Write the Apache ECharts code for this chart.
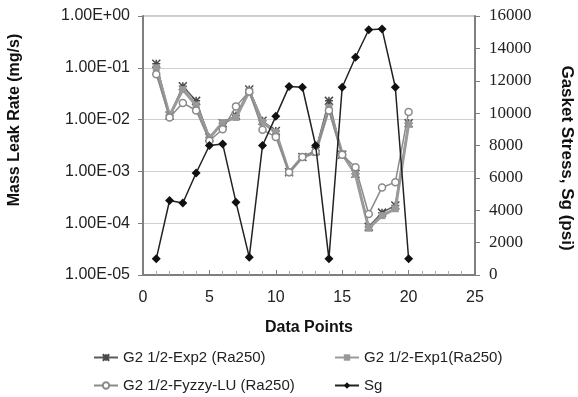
<!DOCTYPE html>
<html>
<head>
<meta charset="utf-8">
<script src="https://cdn.jsdelivr.net/npm/echarts@6/dist/echarts.min.js"></script>
<style>
  html, body { margin: 0; padding: 0; background: #fff; }
  #chart { width: 578px; height: 397px; }
</style>
</head>
<body>
<div id="chart"></div>
<script>
// Measurement index along the x axis
const dataPoints = [1, 2, 3, 4, 5, 6, 7, 8, 9, 10, 11, 12, 13, 14, 15, 16, 17, 18, 19, 20];

// Mass leak rate (mg/s), log scale
const exp2Rate = [0.12, 0.012, 0.044, 0.023, 0.0045, 0.0085, 0.012, 0.038, 0.0095, 0.006,
                  0.00096, 0.0019, 0.0025, 0.023, 0.0021, 0.0009, 0.000085, 0.00016, 0.00022, 0.0085];
const exp1Rate = [0.1, 0.012, 0.038, 0.019, 0.0044, 0.0088, 0.011, 0.035, 0.0089, 0.0057,
                  0.00095, 0.0019, 0.0023, 0.017, 0.0022, 0.00088, 0.00008, 0.00014, 0.00019, 0.0081];
const fuzzyRate = [0.075, 0.011, 0.021, 0.015, 0.0039, 0.0065, 0.018, 0.035, 0.0064, 0.0046,
                   0.00096, 0.0019, 0.0024, 0.015, 0.0021, 0.0012, 0.00015, 0.00049, 0.00062, 0.014];

// Gasket stress Sg (psi), right axis
const gasketStress = [1000, 4600, 4450, 6300, 8000, 8100, 4500, 1100, 8000, 9800,
                      11650, 11600, 8000, 1000, 11600, 13450, 15150, 15200, 11600, 1000];

const seriesNames = ['G2 1/2-Exp2 (Ra250)', 'G2 1/2-Exp1(Ra250)', 'G2 1/2-Fyzzy-LU (Ra250)', 'Sg'];

const pair = (vals) => vals.map((v, i) => [dataPoints[i], v]);

const asterisk = 'path://M0,0L10,10M10,0L0,10M5,0L5,10M0,5L10,5';

function sciLabel(v) {
  const e = Math.round(Math.log10(v));
  return '1.00E' + (e < 0 ? '-' : '+') + String(Math.abs(e)).padStart(2, '0');
}

const sans = 'Liberation Sans, Arial, sans-serif';
const serif = 'Liberation Serif, Times New Roman, serif';
const axisGray = '#7f7f7f';

const chart = echarts.init(document.getElementById('chart'), null, { renderer: 'canvas' });

const legendText = { fontFamily: sans, fontSize: 15, color: '#222' };
const legendBase = { itemWidth: 24, itemHeight: 8, itemGap: 0, padding: 0, textStyle: legendText, selectedMode: false };

chart.setOption({
  animation: false,
  backgroundColor: '#fff',
  grid: {
    left: 143, right: 103, top: 16, bottom: 122,
    show: true, borderColor: '#999', borderWidth: 1, backgroundColor: 'transparent'
  },
  legend: [
    Object.assign({ left: 93, top: 350, data: [seriesNames[0]] }, legendBase),
    Object.assign({ left: 334, top: 350, data: [seriesNames[1]] }, legendBase),
    Object.assign({ left: 93, top: 378, data: [seriesNames[2]] }, legendBase),
    Object.assign({ left: 334, top: 378, data: [seriesNames[3]] }, legendBase)
  ],
  xAxis: {
    type: 'value', min: 0, max: 25, interval: 5,
    name: 'Data Points', nameLocation: 'middle', nameGap: 45,
    nameTextStyle: { fontFamily: sans, fontSize: 16, fontWeight: 'bold', color: '#111' },
    axisLine: { show: true, lineStyle: { color: axisGray, width: 2 } },
    axisTick: { show: true, inside: true, length: 5, lineStyle: { color: axisGray } },
    minorTick: { show: true, splitNumber: 5, length: 4, lineStyle: { color: '#aaa' } },
    axisLabel: { margin: 15, fontFamily: sans, fontSize: 16, color: '#222' },
    splitLine: { show: false }
  },
  yAxis: [
    {
      type: 'log', logBase: 10, min: 1e-5, max: 1,
      axisLine: { show: true, lineStyle: { color: axisGray, width: 2 } },
      axisTick: { show: true, inside: false, length: 5, lineStyle: { color: axisGray } },
      axisLabel: { margin: 13, fontFamily: sans, fontSize: 16, color: '#222', formatter: sciLabel },
      splitLine: { show: true, lineStyle: { color: '#cfcfcf', width: 1 } }
    },
    {
      type: 'value', min: 0, max: 16000, interval: 2000, position: 'right',
      axisLine: { show: true, lineStyle: { color: axisGray, width: 2 } },
      axisTick: { show: true, inside: false, length: 5, lineStyle: { color: axisGray } },
      axisLabel: { margin: 14, fontFamily: serif, fontSize: 17, color: '#222',
                   formatter: (v) => String(v) },
      splitLine: { show: false }
    }
  ],
  graphic: [
    {
      type: 'text', x: 15, y: 120, rotation: Math.PI / 2,
      style: { text: 'Mass Leak Rate (mg/s)', fontFamily: sans, fontSize: 16, fontWeight: 'bold',
               fill: '#111', textAlign: 'center', textVerticalAlign: 'middle' }
    },
    {
      type: 'text', x: 567, y: 158, rotation: -Math.PI / 2,
      style: { text: 'Gasket Stress, Sg (psi)', fontFamily: sans, fontSize: 17, fontWeight: 'bold',
               fill: '#111', textAlign: 'center', textVerticalAlign: 'middle' }
    }
  ],
  series: [
    {
      name: seriesNames[0], type: 'line', yAxisIndex: 0, data: pair(exp2Rate),
      symbol: asterisk, symbolSize: 8, showAllSymbol: true,
      lineStyle: { color: '#5a5a5a', width: 1.5 },
      itemStyle: { color: 'rgba(0,0,0,0)', borderColor: '#4a4a4a', borderWidth: 1.5 },
      z: 2
    },
    {
      name: seriesNames[1], type: 'line', yAxisIndex: 0, data: pair(exp1Rate),
      symbol: 'rect', symbolSize: 7,
      lineStyle: { color: '#9a9a9a', width: 3 },
      itemStyle: { color: '#999999', borderColor: '#999999', borderWidth: 0 },
      z: 3
    },
    {
      name: seriesNames[2], type: 'line', yAxisIndex: 0, data: pair(fuzzyRate),
      symbol: 'circle', symbolSize: 7,
      lineStyle: { color: '#8a8a8a', width: 1.5 },
      itemStyle: { color: '#ffffff', borderColor: '#8a8a8a', borderWidth: 1.5 },
      z: 4
    },
    {
      name: seriesNames[3], type: 'line', yAxisIndex: 1, data: pair(gasketStress),
      symbol: 'diamond', symbolSize: 9,
      lineStyle: { color: '#222', width: 1.5 },
      itemStyle: { color: '#111', borderColor: '#111', borderWidth: 0 },
      z: 5
    }
  ]
});
</script>
</body>
</html>
